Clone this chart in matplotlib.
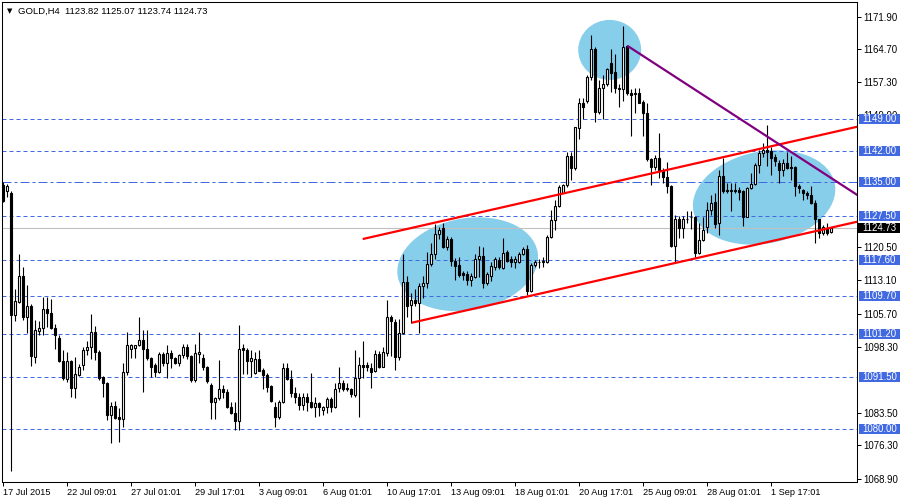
import numpy as np
import matplotlib
matplotlib.use("Agg")
import matplotlib.pyplot as plt
from matplotlib import transforms
from matplotlib.patches import Ellipse, Rectangle

plt.rcParams['font.family'] = ['Liberation Sans', 'DejaVu Sans']

# ---------------- data (GOLD, H4) ----------------
opens = [
    1134.4, 1133.0, 1132.7, 1105.5, 1108.4, 1114.1, 1104.9, 1107.5, 1096.0, 1101.9,
    1102.4, 1106.7, 1105.8, 1102.6, 1100.2, 1095.2, 1091.1, 1095.2, 1089.2, 1092.0,
    1094.3, 1097.5, 1098.2, 1101.7, 1097.2, 1091.5, 1090.2, 1083.1, 1085.0, 1082.6,
    1082.3, 1092.6, 1097.9, 1098.0, 1098.7, 1099.8, 1097.8, 1095.7, 1094.3, 1092.6,
    1096.8, 1094.8, 1097.0, 1095.7, 1094.8, 1096.5, 1098.3, 1096.2, 1090.9, 1096.8,
    1095.7, 1093.9, 1089.8, 1086.1, 1086.8, 1089.0, 1088.3, 1084.8, 1083.6, 1081.8,
    1098.0, 1097.7, 1095.2, 1092.4, 1095.5, 1093.1, 1092.0, 1089.5, 1084.8, 1082.6,
    1086.1, 1093.5, 1091.1, 1087.9, 1087.2, 1085.3, 1087.2, 1086.1, 1084.9, 1085.8,
    1084.3, 1084.8, 1086.7, 1084.9, 1089.2, 1090.2, 1089.2, 1088.8, 1087.5, 1091.3,
    1094.3, 1094.3, 1093.5, 1092.8, 1096.6, 1093.9, 1097.0, 1105.0, 1103.9, 1096.0,
    1101.3, 1112.8, 1107.6, 1108.8, 1108.1, 1111.8, 1112.5, 1116.7, 1118.9, 1123.4,
    1124.7, 1120.6, 1122.3, 1117.5, 1116.5, 1114.8, 1114.5, 1113.3, 1113.8, 1117.8,
    1118.5, 1112.6, 1114.1, 1116.2, 1117.7, 1115.8, 1119.5, 1117.8, 1117.3, 1117.3,
    1119.0, 1120.2, 1110.8, 1116.5, 1117.2, 1117.3, 1117.3, 1122.8, 1126.6, 1129.7,
    1132.7, 1134.4, 1140.8, 1138.1, 1147.0, 1152.6, 1153.2, 1158.4, 1164.8, 1150.7,
    1155.9, 1156.9, 1161.5, 1159.6, 1156.1, 1155.7, 1165.4, 1154.8, 1154.6, 1154.9,
    1152.9, 1150.4, 1140.1, 1138.3, 1140.5, 1137.6, 1136.1, 1134.2, 1120.8, 1126.7,
    1124.9, 1126.9, 1127.2, 1127.3, 1119.3, 1122.1, 1125.1, 1128.8, 1130.6, 1125.8,
    1136.4, 1133.3, 1133.1, 1133.1, 1133.3, 1133.1, 1127.3, 1133.6, 1134.7, 1138.8,
    1141.5, 1142.2, 1142.0, 1140.7, 1139.3, 1137.8, 1139.3, 1138.5, 1138.5, 1134.2,
    1133.3, 1132.7, 1132.2, 1130.3, 1126.7, 1123.7, 1124.7, 1123.82]

highs = [
    1135.0, 1134.7, 1133.0, 1111.1, 1119.0, 1116.2, 1112.1, 1107.9, 1104.3, 1104.1,
    1109.3, 1109.5, 1108.9, 1103.4, 1100.9, 1097.6, 1097.2, 1095.4, 1096.1, 1094.5,
    1098.3, 1099.5, 1105.6, 1102.9, 1097.5, 1091.8, 1090.4, 1086.1, 1086.3, 1084.6,
    1094.6, 1101.5, 1099.0, 1098.8, 1104.9, 1102.1, 1102.1, 1096.1, 1094.6, 1097.2,
    1097.2, 1098.8, 1097.5, 1096.0, 1096.7, 1099.0, 1099.0, 1096.5, 1099.0, 1101.7,
    1096.8, 1094.0, 1090.2, 1087.0, 1095.4, 1089.8, 1089.0, 1086.1, 1086.1, 1103.1,
    1099.0, 1098.0, 1097.5, 1097.2, 1097.5, 1093.5, 1092.4, 1089.8, 1086.1, 1086.4,
    1094.6, 1094.6, 1093.2, 1089.4, 1088.1, 1088.1, 1088.1, 1092.4, 1087.0, 1086.1,
    1085.2, 1087.1, 1087.0, 1090.2, 1093.9, 1090.8, 1090.3, 1089.2, 1097.5, 1096.0,
    1099.5, 1095.0, 1094.6, 1097.6, 1097.3, 1098.3, 1108.8, 1105.4, 1104.4, 1104.4,
    1119.1, 1114.1, 1110.4, 1111.1, 1112.6, 1114.1, 1119.5, 1121.4, 1125.7, 1125.1,
    1126.0, 1122.9, 1122.7, 1118.0, 1118.3, 1115.3, 1115.3, 1114.8, 1119.1, 1120.8,
    1120.6, 1115.0, 1117.1, 1118.3, 1118.3, 1122.5, 1119.9, 1118.5, 1118.5, 1119.5,
    1120.6, 1121.0, 1116.9, 1117.7, 1117.8, 1118.4, 1123.2, 1128.9, 1131.0, 1134.4,
    1134.7, 1141.8, 1141.8, 1147.4, 1153.7, 1153.7, 1158.9, 1167.8, 1165.1, 1157.8,
    1158.9, 1160.4, 1164.8, 1163.6, 1157.0, 1169.8, 1165.6, 1155.7, 1155.9, 1155.9,
    1153.3, 1152.7, 1140.3, 1141.1, 1145.9, 1138.1, 1139.4, 1134.4, 1127.7, 1127.5,
    1127.5, 1128.6, 1128.6, 1127.5, 1126.0, 1127.2, 1130.6, 1132.1, 1132.6, 1137.7,
    1140.5, 1134.9, 1134.8, 1134.8, 1133.9, 1133.3, 1134.0, 1137.0, 1139.2, 1142.2,
    1143.8, 1147.7, 1142.9, 1141.3, 1139.9, 1140.1, 1141.8, 1140.8, 1138.6, 1134.7,
    1133.4, 1133.1, 1134.2, 1131.0, 1126.9, 1125.4, 1126.0, 1125.07]

lows = [
    1130.5, 1131.8, 1070.7, 1104.1, 1108.0, 1104.3, 1101.4, 1094.1, 1094.6, 1100.9,
    1100.9, 1102.8, 1102.2, 1097.9, 1095.0, 1091.0, 1090.5, 1087.0, 1086.8, 1091.8,
    1093.1, 1096.5, 1095.5, 1095.4, 1091.0, 1087.0, 1082.0, 1076.8, 1082.1, 1077.1,
    1080.5, 1092.0, 1095.9, 1095.9, 1098.4, 1088.3, 1095.4, 1091.6, 1091.6, 1092.4,
    1094.0, 1091.3, 1093.5, 1094.5, 1094.0, 1095.8, 1095.5, 1090.5, 1090.5, 1094.6,
    1093.1, 1090.2, 1082.3, 1082.3, 1086.4, 1086.8, 1084.6, 1083.4, 1079.7, 1079.7,
    1092.2, 1092.2, 1091.6, 1092.2, 1092.8, 1089.0, 1088.3, 1086.1, 1080.5, 1082.2,
    1085.8, 1090.9, 1087.0, 1085.7, 1084.2, 1084.2, 1084.0, 1084.6, 1082.7, 1082.8,
    1083.1, 1083.6, 1083.8, 1084.6, 1088.3, 1088.5, 1088.5, 1087.2, 1087.2, 1082.6,
    1091.3, 1093.0, 1089.2, 1092.6, 1093.5, 1093.7, 1096.3, 1096.2, 1093.1, 1095.4,
    1101.2, 1104.9, 1103.7, 1107.3, 1101.3, 1109.1, 1111.4, 1116.3, 1117.8, 1122.3,
    1120.3, 1119.9, 1116.3, 1113.3, 1113.9, 1113.3, 1112.1, 1111.8, 1113.6, 1113.8,
    1111.5, 1112.1, 1113.0, 1115.5, 1115.6, 1115.6, 1117.2, 1116.2, 1115.8, 1116.9,
    1118.8, 1109.9, 1110.6, 1116.2, 1115.8, 1116.2, 1117.0, 1122.5, 1124.3, 1129.4,
    1132.6, 1134.0, 1135.5, 1137.8, 1144.6, 1149.2, 1152.6, 1157.8, 1148.5, 1150.3,
    1149.0, 1156.4, 1155.2, 1154.9, 1151.8, 1153.2, 1154.4, 1145.3, 1150.4, 1152.6,
    1145.3, 1139.8, 1134.4, 1137.7, 1135.9, 1134.9, 1132.7, 1120.6, 1117.3, 1122.5,
    1122.5, 1125.8, 1124.5, 1118.4, 1119.1, 1121.9, 1123.7, 1127.7, 1124.9, 1123.2,
    1132.7, 1132.6, 1128.6, 1132.7, 1131.0, 1125.2, 1127.2, 1133.4, 1134.4, 1137.0,
    1140.7, 1138.6, 1136.6, 1138.6, 1134.9, 1136.4, 1137.9, 1135.6, 1131.9, 1132.5,
    1131.0, 1131.2, 1130.1, 1121.5, 1122.5, 1123.2, 1123.2, 1123.74]

closes = [
    1130.8, 1134.1, 1105.5, 1108.5, 1114.1, 1104.9, 1107.4, 1096.3, 1102.0, 1102.6,
    1106.7, 1105.8, 1102.6, 1100.9, 1095.2, 1091.3, 1095.2, 1089.2, 1092.2, 1093.9,
    1097.6, 1098.2, 1101.7, 1097.2, 1091.3, 1090.2, 1083.1, 1085.0, 1082.5, 1082.2,
    1092.6, 1098.7, 1098.7, 1098.7, 1099.8, 1097.8, 1095.7, 1093.7, 1092.6, 1096.8,
    1094.8, 1097.0, 1095.7, 1094.8, 1096.5, 1098.3, 1096.2, 1090.9, 1097.0, 1097.1,
    1093.9, 1090.6, 1086.1, 1086.8, 1088.8, 1088.3, 1084.8, 1083.6, 1081.8, 1097.9,
    1097.7, 1095.2, 1095.7, 1095.5, 1093.0, 1092.0, 1089.4, 1086.3, 1082.6, 1086.1,
    1093.5, 1091.1, 1087.9, 1087.2, 1085.3, 1087.2, 1086.1, 1084.8, 1085.8, 1084.8,
    1084.9, 1086.7, 1084.9, 1089.0, 1090.2, 1089.0, 1088.8, 1087.8, 1091.3, 1094.3,
    1093.9, 1093.7, 1092.6, 1096.8, 1093.9, 1097.2, 1105.0, 1104.1, 1096.0, 1101.3,
    1112.8, 1107.4, 1108.7, 1108.1, 1111.8, 1112.6, 1116.8, 1119.0, 1123.5, 1124.4,
    1120.5, 1122.3, 1117.5, 1116.3, 1114.3, 1114.3, 1113.3, 1114.1, 1117.8, 1118.5,
    1112.6, 1114.5, 1116.3, 1117.8, 1116.0, 1119.3, 1117.5, 1117.1, 1117.8, 1119.1,
    1120.2, 1110.8, 1116.5, 1117.3, 1117.3, 1117.4, 1122.8, 1126.6, 1129.7, 1134.0,
    1134.4, 1140.8, 1138.1, 1147.2, 1152.6, 1151.7, 1158.4, 1164.8, 1150.7, 1155.9,
    1156.9, 1160.2, 1159.4, 1156.1, 1155.7, 1165.1, 1154.8, 1154.5, 1154.9, 1152.7,
    1150.4, 1140.1, 1138.3, 1140.3, 1137.6, 1136.1, 1134.2, 1120.8, 1126.7, 1124.7,
    1126.9, 1126.7, 1127.3, 1119.3, 1122.1, 1124.3, 1128.8, 1130.3, 1125.7, 1136.4,
    1133.1, 1133.0, 1133.3, 1133.3, 1132.9, 1127.3, 1133.6, 1134.7, 1138.8, 1141.6,
    1142.2, 1141.8, 1140.5, 1139.8, 1137.8, 1139.3, 1138.1, 1138.1, 1134.2, 1133.6,
    1132.7, 1132.2, 1130.3, 1126.7, 1123.7, 1125.1, 1123.7, 1124.73]

# time-axis labels (every 16th bar)
x_tick_bars = [0, 16, 32, 48, 64, 80, 96, 112, 128, 144, 160, 176, 192]
x_tick_labels = ['17 Jul 2015', '22 Jul 09:01', '27 Jul 01:01', '29 Jul 17:01',
                 '3 Aug 09:01', '6 Aug 01:01', '10 Aug 17:01', '13 Aug 09:01',
                 '18 Aug 01:01', '20 Aug 17:01', '25 Aug 09:01', '28 Aug 01:01',
                 '1 Sep 17:01']
y_ticks = [1171.90, 1164.70, 1157.30, 1149.90, 1120.50, 1113.10, 1105.70,
           1098.30, 1083.50, 1076.30, 1068.90]

# horizontal levels drawn by the analyst
levels = [1149.00, 1142.00, 1135.00, 1127.50, 1117.60, 1109.70, 1101.20, 1091.50, 1080.00]
dashdot_level = 1135.00
last_price = 1124.73
header = 'GOLD,H4  1123.82 1125.07 1123.74 1124.73'

# trend lines: (bar, price) anchor pairs
channel_top = [(89.85, 1122.33), (216.0, 1147.88)]
channel_bottom = [(102.1, 1103.67), (216.0, 1126.70)]
resistance = [(156.0, 1165.43), (216.0, 1130.70)]

# highlighted zones: (center bar, center price, width px, height px, angle deg)
zones = [(116.1, 1116.7, 142, 92, 10),
         (151.6, 1164.5, 63, 60, 0),
         (190.2, 1131.6, 144, 92, 11)]

# ---------------- drawing ----------------
BLUE = '#4169E1'
W, H, DPI = 900, 500, 100
fig = plt.figure(figsize=(W / DPI, H / DPI), dpi=DPI)
ax = fig.add_axes([2 / W, 18.5 / H, 855.3 / W, 479.5 / H])
ax.set_xlim(-0.325, 213.5)
ax.set_ylim(1068.27, 1175.18)

O = np.array(opens); Hh = np.array(highs); L = np.array(lows); C = np.array(closes)
x = np.arange(len(C))

# zones (ellipses) drawn in pixel units around data centers
for cx, cy, wpx, hpx, ang in zones:
    tr = fig.dpi_scale_trans + transforms.ScaledTranslation(cx, cy, ax.transData)
    ax.add_patch(Ellipse((0, 0), wpx / DPI, hpx / DPI, angle=ang, transform=tr,
                         facecolor='#87CEEB', edgecolor='none', zorder=1))

# horizontal levels
for lv in levels:
    if lv == dashdot_level:
        ax.axhline(lv, color=BLUE, lw=0.72, dashes=(9, 3, 3, 3), zorder=2)
    else:
        ax.axhline(lv, color=BLUE, lw=0.72, dashes=(4, 3), zorder=2)
ax.axhline(last_price, color='#C0C0C0', lw=0.8, zorder=2)

# candles
ax.vlines(x, L, Hh, color='black', lw=0.8, zorder=3)
up = C >= O
ax.bar(x[up], (C - O)[up], bottom=O[up], width=0.5, facecolor='white',
       edgecolor='black', lw=0.8, zorder=4)
ax.bar(x[~up], (O - C)[~up], bottom=C[~up], width=0.5, facecolor='black',
       edgecolor='black', lw=0.8, zorder=4)

# trend lines
for seg, col in [(channel_top, 'red'), (channel_bottom, 'red'), (resistance, '#800080')]:
    ax.plot([seg[0][0], seg[1][0]], [seg[0][1], seg[1][1]], color=col, lw=1.6,
            solid_capstyle='butt', zorder=6)

# axes styling
for s in ax.spines.values():
    s.set_color('black'); s.set_linewidth(0.75)
ax.yaxis.tick_right()
ax.set_yticks(y_ticks)
ax.set_yticklabels([f'{v:.2f}' for v in y_ticks])
ax.set_xticks(x_tick_bars)
ax.set_xticklabels(x_tick_labels, ha='left')
ax.tick_params(axis='y', direction='out', length=3, width=0.72, pad=1, labelsize=6.9, colors='black')
ax.tick_params(axis='x', direction='out', length=3, width=0.72, pad=1.5, labelsize=6.6, colors='black')

# right-hand price boxes
bt = transforms.blended_transform_factory(ax.transAxes, ax.transData)
box_h = 10 / 4.485
for lv in levels:
    ax.add_patch(Rectangle((1.0022, lv - box_h / 2), 0.048, box_h, transform=bt,
                           facecolor=BLUE, edgecolor='none', clip_on=False, zorder=10))
    ax.text(1.0055, lv, f'{lv:.2f}', transform=bt, color='white', fontsize=6.9,
            va='center', ha='left', clip_on=False, zorder=11)
ax.add_patch(Rectangle((1.001, last_price - box_h / 2), 0.049, box_h, transform=bt,
                       facecolor='black', edgecolor='none', clip_on=False, zorder=10))
ax.text(1.0055, last_price, f'{last_price:.2f}', transform=bt, color='white',
        fontsize=6.9, va='center', ha='left', clip_on=False, zorder=11)

# header
fig.text(6.5 / W, 1 - 11 / H, '\u25BC', fontsize=5, family=['DejaVu Sans'], va='center')
fig.text(18 / W, 1 - 11 / H, header, fontsize=6.8, va='center', color='black')

fig.savefig('out.png', dpi=DPI)
